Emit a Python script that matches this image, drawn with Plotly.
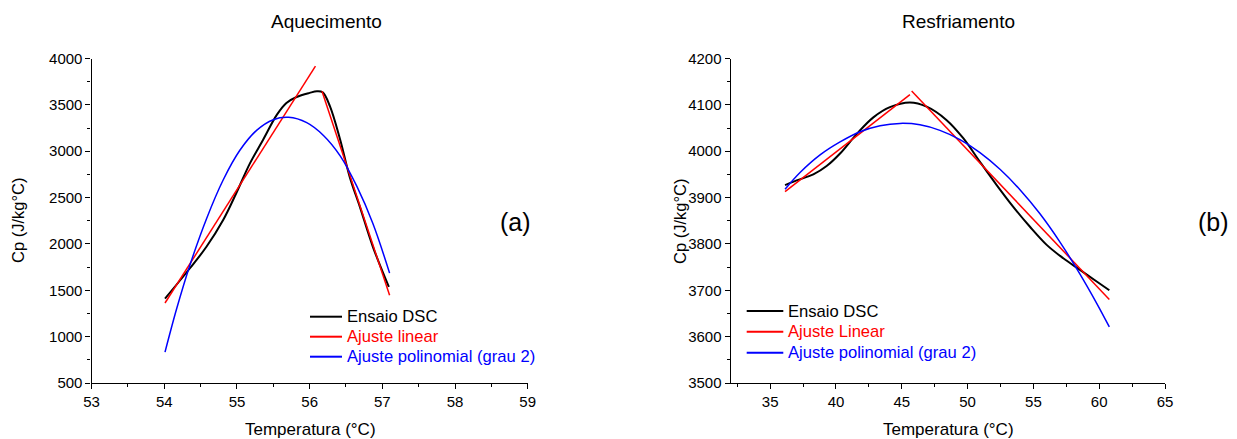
import plotly.graph_objects as go

# ---- (a) Aquecimento ----
a_dsc_x = [54.01, 54.35, 54.58, 54.81, 54.99, 55.18, 55.36, 55.55, 55.68, 55.82, 56.00, 56.10, 56.18, 56.28, 56.42, 56.55, 56.69, 56.87, 57.09]
a_dsc_y = [1411, 1735, 1969, 2258, 2547, 2871, 3124, 3394, 3520, 3585, 3629, 3646, 3635, 3484, 3124, 2726, 2402, 1969, 1536]
a_lin1_x = [54.01, 56.08]
a_lin1_y = [1363, 3918]
a_lin2_x = [56.17, 57.10]
a_lin2_y = [3646, 1447]
a_pol_x = [54.01, 54.17, 54.35, 54.58, 54.81, 55.04, 55.27, 55.50, 55.71, 55.96, 56.19, 56.42, 56.65, 56.87, 57.10]
a_pol_y = [833, 1300, 1765, 2270, 2690, 3010, 3225, 3340, 3365, 3308, 3170, 2950, 2620, 2220, 1685]

# ---- (b) Resfriamento ----
b_dsc_x = [36.13, 37.01, 38.28, 39.29, 40.31, 41.57, 42.84, 44.10, 45.62, 46.89, 48.41, 49.67, 50.94, 52.21, 53.47, 54.74, 56.01, 57.27, 58.54, 59.81, 60.77]
b_dsc_y = [3927, 3937, 3950, 3968, 3995, 4037, 4073, 4095, 4105, 4096, 4067, 4028, 3977, 3927, 3880, 3837, 3798, 3769, 3744, 3719, 3700]
b_lin1_x = [36.13, 45.62]
b_lin1_y = [3913, 4122]
b_lin2_x = [45.75, 60.77]
b_lin2_y = [4130, 3680]
b_pol_x = [36.13, 37.27, 38.79, 40.31, 41.83, 43.35, 44.86, 46.38, 47.90, 49.42, 50.94, 52.46, 53.98, 55.50, 57.02, 58.54, 59.81, 60.77]
b_pol_y = [3918, 3954, 3992, 4020, 4042, 4055, 4060, 4057, 4045, 4025, 3997, 3961, 3917, 3865, 3804, 3735, 3672, 3621]

legend_a = ["Ensaio DSC", "Ajuste linear", "Ajuste polinomial (grau 2)"]
legend_b = ["Ensaio DSC", "Ajuste Linear", "Ajuste polinomial (grau 2)"]
colors = ["black", "red", "blue"]

FONT = "Liberation Sans, Arial, sans-serif"
W, H = 1237, 439

fig = go.Figure()

def add(x, y, color, width, name, xa, ya, smooth=True):
    line = dict(color=color, width=width)
    if smooth:
        line.update(shape="spline", smoothing=1.0)
    fig.add_trace(go.Scatter(x=x, y=y, mode="lines", line=line,
                             name=name, xaxis=xa, yaxis=ya, showlegend=False))

add(a_dsc_x, a_dsc_y, "black", 2, legend_a[0], "x", "y")
add(a_lin1_x, a_lin1_y, "red", 1.5, legend_a[1], "x", "y", smooth=False)
add(a_lin2_x, a_lin2_y, "red", 1.5, legend_a[1], "x", "y", smooth=False)
add(a_pol_x, a_pol_y, "blue", 1.5, legend_a[2], "x", "y")

add(b_dsc_x, b_dsc_y, "black", 2, legend_b[0], "x2", "y2")
add(b_lin1_x, b_lin1_y, "red", 1.5, legend_b[1], "x2", "y2", smooth=False)
add(b_lin2_x, b_lin2_y, "red", 1.5, legend_b[1], "x2", "y2", smooth=False)
add(b_pol_x, b_pol_y, "blue", 1.5, legend_b[2], "x2", "y2")

ydom = [1 - 383 / H, 1 - 58.5 / H]
axcommon = dict(showline=True, linecolor="black", linewidth=1.3, ticks="outside", ticklen=5,
                tickwidth=1.2, tickcolor="black", showgrid=False, zeroline=False,
                tickfont=dict(family=FONT, size=15, color="black"), automargin=False)

fig.update_layout(
    width=W, height=H, margin=dict(l=0, r=0, t=0, b=0),
    paper_bgcolor="white", plot_bgcolor="white",
    font=dict(family=FONT, color="black"),
    showlegend=False,
    xaxis=dict(domain=[91.6 / W, 527.7 / W], range=[53, 59], dtick=1, anchor="y",
               minor=dict(dtick=0.5, ticks="outside", ticklen=3, tickcolor="black"), **axcommon),
    yaxis=dict(domain=ydom, range=[500, 4000], dtick=500, anchor="x",
               minor=dict(dtick=250, ticks="outside", ticklen=3, tickcolor="black"), **axcommon),
    xaxis2=dict(domain=[730.7 / W, 1165 / W], range=[32, 65], dtick=5, tick0=35, anchor="y2",
                minor=dict(dtick=2.5, ticks="outside", ticklen=3, tickcolor="black"), **axcommon),
    yaxis2=dict(domain=ydom, range=[3500, 4200], dtick=100, anchor="x2",
                minor=dict(dtick=50, ticks="outside", ticklen=3, tickcolor="black"), **axcommon),
)

def txt(text, x, y, size, angle=0, xanchor="center", color="black"):
    fig.add_annotation(xref="paper", yref="paper", showarrow=False, xanchor=xanchor, yanchor="middle",
                       text=text, x=x / W, y=1 - y / H, textangle=angle,
                       font=dict(family=FONT, size=size, color=color))

txt("Aquecimento", 326, 22, 19)
txt("Resfriamento", 958, 22, 19)
txt("Temperatura (°C)", 310, 429, 17)
txt("Temperatura (°C)", 948, 429, 17)
txt("Cp (J/kg°C)", 18, 221, 16.5, angle=-90)
txt("Cp (J/kg°C)", 680, 221, 16.5, angle=-90)
txt("(a)", 515, 222, 25)
txt("(b)", 1213, 222, 25)

# custom legends (key line + label)
def legend(labels, x0, x1, xt, ys):
    for lab, col, yy in zip(labels, colors, ys):
        fig.add_shape(type="line", xref="paper", yref="paper", x0=x0 / W, x1=x1 / W,
                      y0=1 - yy / H, y1=1 - yy / H, line=dict(color=col, width=2))
        txt(lab, xt, yy, 16.6, xanchor="left", color=col)

legend(legend_a, 310, 342, 345, [316.7, 336.7, 356.7])
legend(legend_b, 746.7, 783.3, 785.5, [311, 331.7, 352.7])

fig.write_html("out.html", config={"displayModeBar": False},
               post_script="document.body.style.margin='0px';document.body.style.overflow='hidden';")
